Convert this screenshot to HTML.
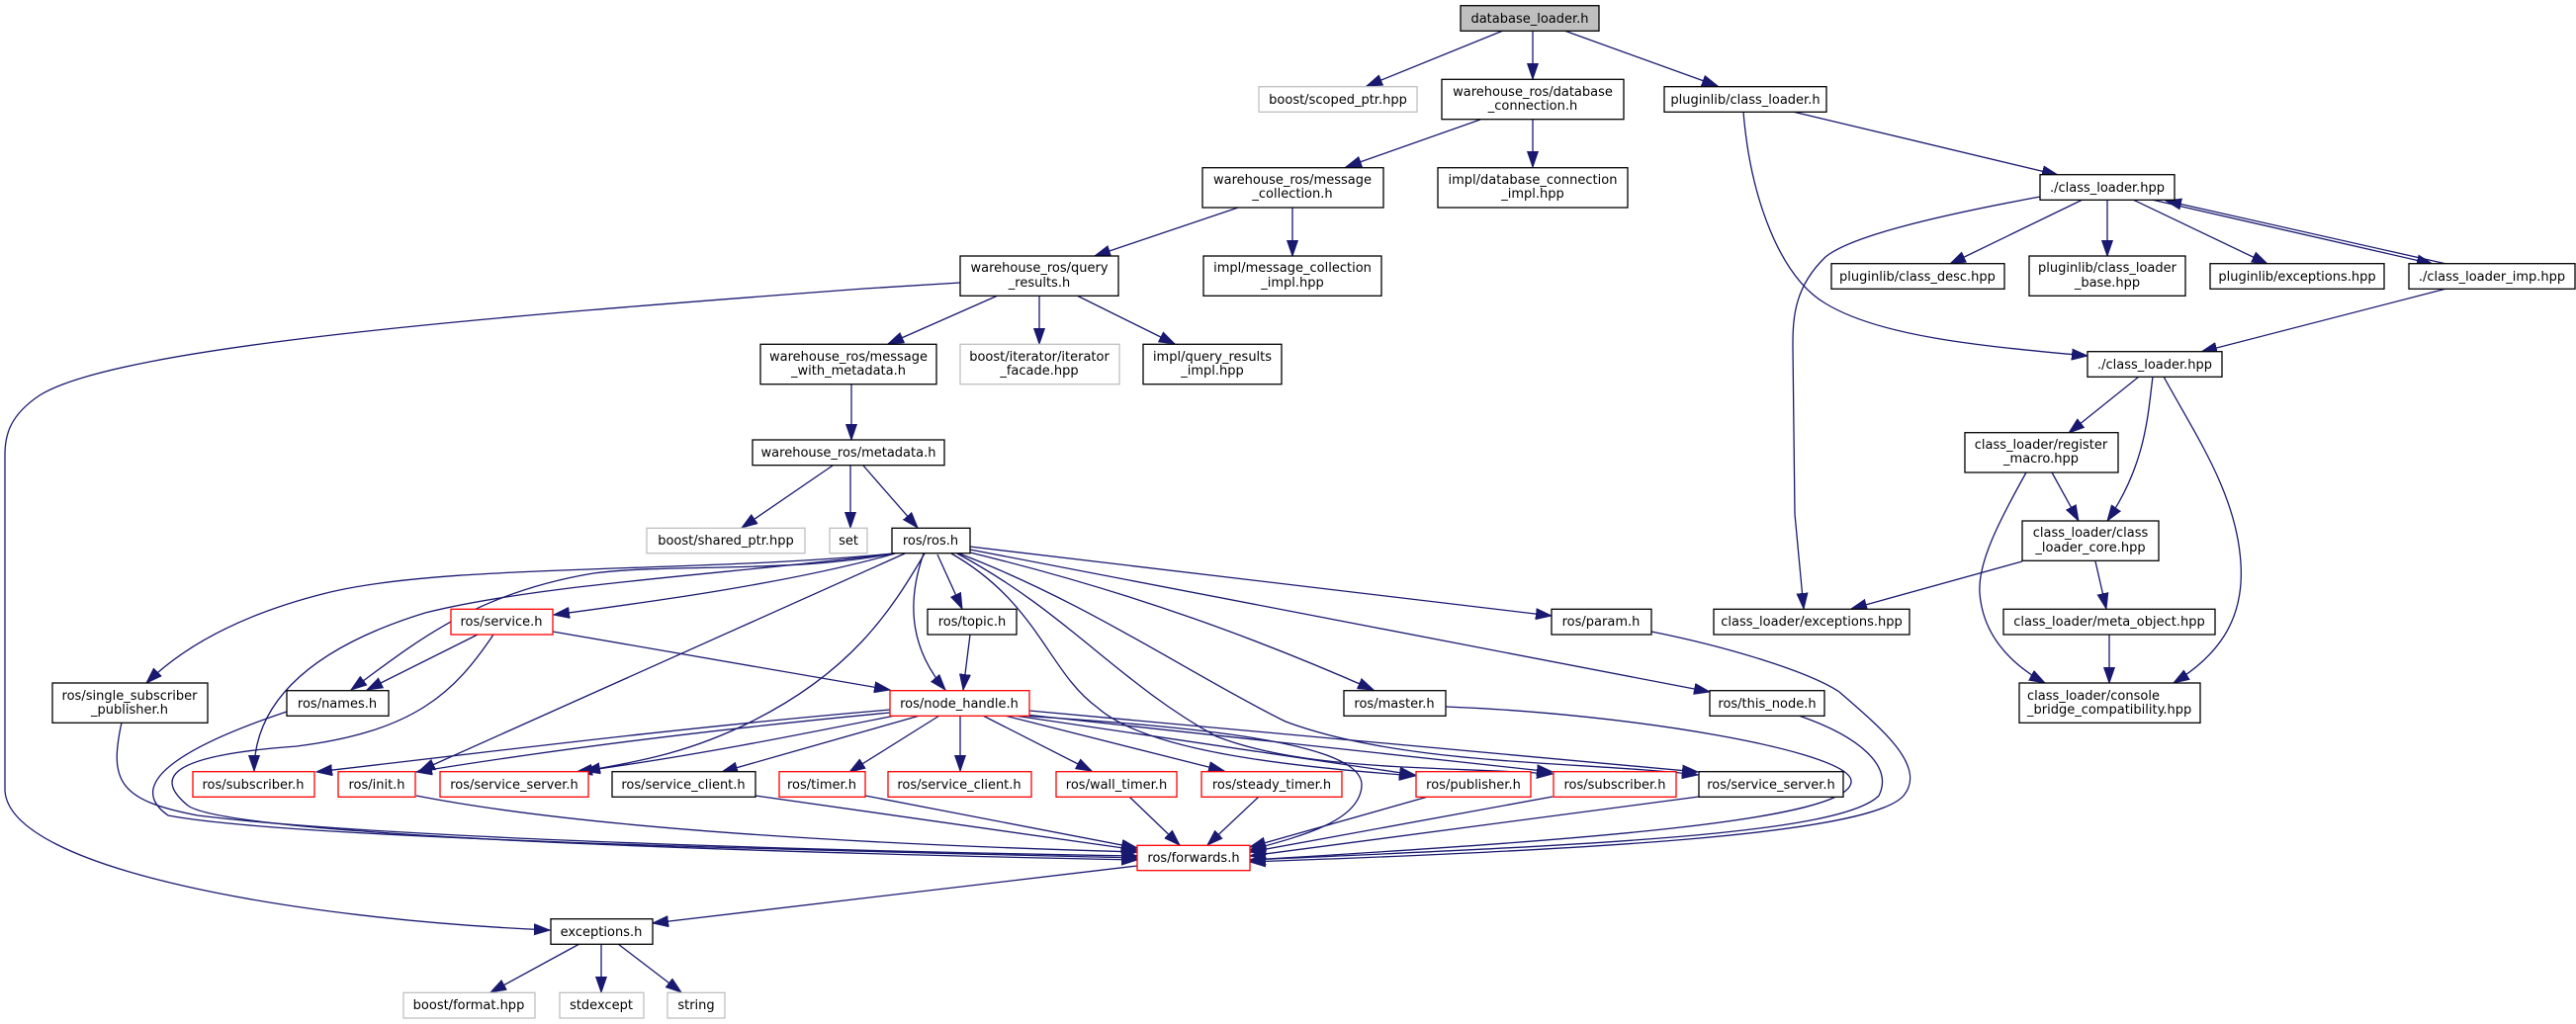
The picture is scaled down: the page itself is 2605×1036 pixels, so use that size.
<!DOCTYPE html>
<html><head><meta charset="utf-8"><style>html,body{margin:0;padding:0;background:#fff}svg{display:block}</style></head>
<body>
<svg xmlns="http://www.w3.org/2000/svg" width="2605" height="1036" viewBox="0 0 2605 1036">
<defs><marker id="a" markerWidth="18" markerHeight="12" refX="16" refY="6" orient="auto" markerUnits="userSpaceOnUse"><path d="M0,0.5 L16,6 L0,11.5z" fill="#191970" stroke="#191970"/></marker></defs>
<g fill="none" stroke="#191970" stroke-width="1.3" marker-end="url(#a)">
<path d="M1520,31 L1382,87"/>
<path d="M1550,31 L1550,80"/>
<path d="M1582,31 L1737,87"/>
<path d="M1497,121 L1361,169"/>
<path d="M1550,121 L1550,169"/>
<path d="M1252,210 L1107,259"/>
<path d="M1307,210 L1307,259"/>
<path d="M1009,299 L898,348"/>
<path d="M1051,299 L1051,348"/>
<path d="M1089,299 L1188,348"/>
<path d="M971,286 L874,292 C500,320 120,350 40,400 C10,420 5,440 5,460 L5,800 C10,880 300,930 556,941"/>
<path d="M861,389 L861,445"/>
<path d="M842,471 L750,534"/>
<path d="M860,471 L860,534"/>
<path d="M873,471 L928,534"/>
<path d="M903,560 C700,580 450,570 330,600 C250,620 190,650 148,691"/>
<path d="M903,560 C800,580 680,570 600,580 C480,600 420,650 355,698"/>
<path d="M903,560 C750,580 550,590 430,620 C300,660 257,720 257,780"/>
<path d="M905,560 C800,590 650,610 560,622"/>
<path d="M915,560 L424,780"/>
<path d="M935,560 C900,620 860,680 760,730 C700,760 650,770 591,780"/>
<path d="M948,561 L973,616"/>
<path d="M934,560 C920,600 915,650 956,698"/>
<path d="M981,642 L974,698"/>
<path d="M962,560 C1050,610 1060,680 1110,716 C1160,760 1300,775 1431,785"/>
<path d="M968,560 C1080,620 1130,690 1230,745 C1320,780 1450,775 1570,783"/>
<path d="M970,560 C1100,610 1200,680 1300,730 C1420,775 1600,770 1717,784"/>
<path d="M981,559 C1150,600 1280,650 1389,698"/>
<path d="M981,556 L1729,700"/>
<path d="M981,553 L1569,623"/>
<path d="M559,639 L900,698"/>
<path d="M483,642 L371,698"/>
<path d="M499,642 C460,700 420,740 300,755 C160,765 160,790 190,815 C240,850 900,865 1150,870"/>
<path d="M900,718 C700,735 500,760 320,781"/>
<path d="M900,721 C700,740 550,760 421,781"/>
<path d="M905,724 C800,745 700,765 583,781"/>
<path d="M930,724 L730,781"/>
<path d="M950,724 L859,781"/>
<path d="M971,724 L971,780"/>
<path d="M994,724 L1104,780"/>
<path d="M1016,724 L1238,780"/>
<path d="M1026,724 L1431,784"/>
<path d="M1037,723 L1570,781"/>
<path d="M1041,719 L1717,781"/>
<path d="M1032,724 C1200,735 1380,750 1377,795 C1375,830 1320,845 1264,860"/>
<path d="M123,731 C110,790 120,810 200,825 C400,850 900,862 1150,866"/>
<path d="M290,720 C200,750 120,790 170,825 C300,850 900,862 1150,868"/>
<path d="M421,805 C600,840 900,855 1150,862"/>
<path d="M764,805 L1150,860"/>
<path d="M875,805 L1150,858"/>
<path d="M1142,806 L1193,855"/>
<path d="M1273,806 L1221,855"/>
<path d="M1444,806 L1264,857"/>
<path d="M1570,806 L1264,862"/>
<path d="M1718,806 L1264,866"/>
<path d="M1462,715 C1650,722 1870,760 1872,790 C1875,830 1600,850 1264,870"/>
<path d="M1819,724 C1880,745 1915,775 1900,805 C1860,845 1600,855 1264,870"/>
<path d="M1670,639 C1750,655 1830,680 1860,700 C1900,735 1950,775 1925,805 C1890,845 1600,860 1264,872"/>
<path d="M1150,876 L660,934"/>
<path d="M586,955 L496,1004"/>
<path d="M608,955 L608,1004"/>
<path d="M625,955 L689,1004"/>
<path d="M1813,113 L2081,177"/>
<path d="M1763,113 C1770,200 1800,280 1846,307 C1900,340 2000,350 2111,360"/>
<path d="M2063,199 C1950,220 1870,240 1846,260 C1815,290 1813,320 1813,350 L1815,520 L1824,616"/>
<path d="M2106,202 L1972,267"/>
<path d="M2131,202 L2131,259"/>
<path d="M2157,202 L2293,267"/>
<path d="M2176,202 L2460,267"/>
<path d="M2474,267 L2190,203"/>
<path d="M2474,292 L2226,356"/>
<path d="M2163,381 L2092,438"/>
<path d="M2177,381 C2172,420 2170,470 2131,527"/>
<path d="M2188,381 C2220,440 2262,500 2266,570 C2270,630 2240,665 2198,691"/>
<path d="M2075,478 L2102,527"/>
<path d="M2049,478 C2020,530 2000,570 2002,600 C2005,640 2030,670 2068,691"/>
<path d="M2045,568 L1872,616"/>
<path d="M2119,568 L2130,616"/>
<path d="M2133,642 L2133,691"/>
</g>
<g stroke-width="1.3" fill="#fff">
<rect x="1477" y="5.7" width="140" height="25.6" fill="#bfbfbf" stroke="#000"/>
<rect x="1273" y="87.7" width="160" height="25.6" stroke="#bfbfbf"/>
<rect x="1458" y="80.3" width="184" height="40.4" stroke="#000"/>
<rect x="1683" y="87.7" width="164" height="25.6" stroke="#000"/>
<rect x="1216" y="169.7" width="183" height="40.3" stroke="#000"/>
<rect x="1454" y="169.7" width="192" height="40.3" stroke="#000"/>
<rect x="971" y="259" width="160" height="40.3" stroke="#000"/>
<rect x="1217" y="259" width="180" height="40.3" stroke="#000"/>
<rect x="971" y="348.3" width="161" height="40.4" stroke="#bfbfbf"/>
<rect x="1156" y="348.3" width="140" height="40.4" stroke="#000"/>
<rect x="769" y="348.3" width="178" height="40.4" stroke="#000"/>
<rect x="761" y="445" width="194" height="25.7" stroke="#000"/>
<rect x="654" y="534.3" width="160" height="25.4" stroke="#bfbfbf"/>
<rect x="839" y="534.3" width="38" height="25.4" stroke="#bfbfbf"/>
<rect x="902" y="534.3" width="79" height="25.4" stroke="#000"/>
<rect x="938" y="616.3" width="90" height="25.7" stroke="#000"/>
<rect x="1569" y="616.3" width="101" height="25.7" stroke="#000"/>
<rect x="456" y="616.3" width="103" height="25.7" stroke="#f00"/>
<rect x="53" y="691" width="157" height="40.3" stroke="#000"/>
<rect x="290" y="698.7" width="103" height="25.6" stroke="#000"/>
<rect x="900" y="698.7" width="141" height="25.6" stroke="#f00"/>
<rect x="1359" y="698.7" width="103" height="25.6" stroke="#000"/>
<rect x="1729" y="698.7" width="116" height="25.6" stroke="#000"/>
<rect x="195" y="780.7" width="123" height="25.6" stroke="#f00"/>
<rect x="342" y="780.7" width="78" height="25.6" stroke="#f00"/>
<rect x="445" y="780.7" width="150" height="25.6" stroke="#f00"/>
<rect x="619" y="780.7" width="145" height="25.6" stroke="#000"/>
<rect x="788" y="780.7" width="87" height="25.6" stroke="#f00"/>
<rect x="898" y="780.7" width="145" height="25.6" stroke="#f00"/>
<rect x="1068" y="780.7" width="122" height="25.6" stroke="#f00"/>
<rect x="1215" y="780.7" width="142" height="25.6" stroke="#f00"/>
<rect x="1432" y="780.7" width="116" height="25.6" stroke="#f00"/>
<rect x="1571" y="780.7" width="124" height="25.6" stroke="#f00"/>
<rect x="1718" y="780.7" width="146" height="25.6" stroke="#000"/>
<rect x="1150" y="855.3" width="114" height="25.4" stroke="#f00"/>
<rect x="557" y="929.7" width="103" height="25.6" stroke="#000"/>
<rect x="408" y="1004.3" width="133" height="25.7" stroke="#bfbfbf"/>
<rect x="566" y="1004.3" width="85" height="25.7" stroke="#bfbfbf"/>
<rect x="675" y="1004.3" width="58" height="25.7" stroke="#bfbfbf"/>
<rect x="2063" y="176.7" width="136" height="25.6" stroke="#000"/>
<rect x="1852" y="266.7" width="175" height="25.6" stroke="#000"/>
<rect x="2052" y="259" width="158" height="40.3" stroke="#000"/>
<rect x="2235" y="266.7" width="176" height="25.6" stroke="#000"/>
<rect x="2436" y="266.7" width="168" height="25.6" stroke="#000"/>
<rect x="2111" y="355.7" width="136" height="25.6" stroke="#000"/>
<rect x="1987" y="437.7" width="155" height="40.3" stroke="#000"/>
<rect x="2045" y="527" width="138" height="40.3" stroke="#000"/>
<rect x="1733" y="616.3" width="198" height="25.7" stroke="#000"/>
<rect x="2026" y="616.3" width="214" height="25.7" stroke="#000"/>
<rect x="2042" y="691" width="183" height="40.3" stroke="#000"/>
</g>
<g font-family="'DejaVu Sans','Liberation Sans',sans-serif" font-size="13" text-anchor="middle" fill="#000">
<text x="1547" y="23">database_loader.h</text>
<text x="1353" y="105">boost/scoped_ptr.hpp</text>
<text x="1550" y="97">warehouse_ros/database</text><text x="1550" y="111">_connection.h</text>
<text x="1765" y="105">pluginlib/class_loader.h</text>
<text x="1307" y="186">warehouse_ros/message</text><text x="1307" y="200">_collection.h</text>
<text x="1550" y="186">impl/database_connection</text><text x="1550" y="200">_impl.hpp</text>
<text x="1051" y="275">warehouse_ros/query</text><text x="1051" y="290">_results.h</text>
<text x="1307" y="275">impl/message_collection</text><text x="1307" y="290">_impl.hpp</text>
<text x="1051" y="365">boost/iterator/iterator</text><text x="1051" y="379">_facade.hpp</text>
<text x="1226" y="365">impl/query_results</text><text x="1226" y="379">_impl.hpp</text>
<text x="858" y="365">warehouse_ros/message</text><text x="858" y="379">_with_metadata.h</text>
<text x="858" y="462">warehouse_ros/metadata.h</text>
<text x="734" y="551">boost/shared_ptr.hpp</text>
<text x="858" y="551">set</text>
<text x="941" y="551">ros/ros.h</text>
<text x="983" y="633">ros/topic.h</text>
<text x="1619" y="633">ros/param.h</text>
<text x="507" y="633">ros/service.h</text>
<text x="131" y="708">ros/single_subscriber</text><text x="131" y="722">_publisher.h</text>
<text x="341" y="716">ros/names.h</text>
<text x="970" y="716">ros/node_handle.h</text>
<text x="1410" y="716">ros/master.h</text>
<text x="1787" y="716">ros/this_node.h</text>
<text x="256" y="798">ros/subscriber.h</text>
<text x="381" y="798">ros/init.h</text>
<text x="520" y="798">ros/service_server.h</text>
<text x="691" y="798">ros/service_client.h</text>
<text x="831" y="798">ros/timer.h</text>
<text x="970" y="798">ros/service_client.h</text>
<text x="1129" y="798">ros/wall_timer.h</text>
<text x="1286" y="798">ros/steady_timer.h</text>
<text x="1490" y="798">ros/publisher.h</text>
<text x="1633" y="798">ros/subscriber.h</text>
<text x="1791" y="798">ros/service_server.h</text>
<text x="1207" y="872">ros/forwards.h</text>
<text x="608" y="947">exceptions.h</text>
<text x="474" y="1021">boost/format.hpp</text>
<text x="608" y="1021">stdexcept</text>
<text x="704" y="1021">string</text>
<text x="2131" y="194">./class_loader.hpp</text>
<text x="1939" y="284">pluginlib/class_desc.hpp</text>
<text x="2131" y="275">pluginlib/class_loader</text><text x="2131" y="290">_base.hpp</text>
<text x="2323" y="284">pluginlib/exceptions.hpp</text>
<text x="2520" y="284">./class_loader_imp.hpp</text>
<text x="2179" y="373">./class_loader.hpp</text>
<text x="2064" y="454">class_loader/register</text><text x="2064" y="468">_macro.hpp</text>
<text x="2114" y="543">class_loader/class</text><text x="2114" y="558">_loader_core.hpp</text>
<text x="1832" y="633">class_loader/exceptions.hpp</text>
<text x="2133" y="633">class_loader/meta_object.hpp</text>
<text x="2050" y="708" text-anchor="start">class_loader/console</text><text x="2050" y="722" text-anchor="start">_bridge_compatibility.hpp</text>
</g>
</svg>
</body></html>
